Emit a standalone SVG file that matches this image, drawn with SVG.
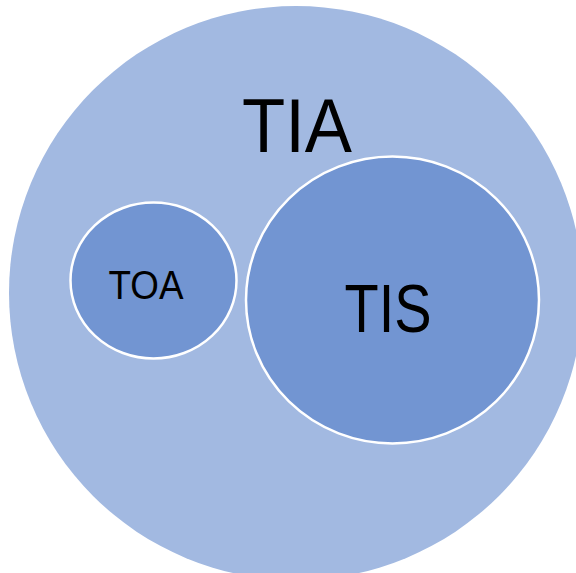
<svg xmlns="http://www.w3.org/2000/svg" width="576" height="573" viewBox="0 0 576 573">
<style>
.lbl{font-family:"Liberation Sans","Open Sans",sans-serif;fill:#000;text-anchor:middle}
.inner{fill:#7295D2;stroke:#fff;stroke-width:2.5}
</style>
<rect width="576" height="573" fill="#fff"/>
<g id="TIA">
<circle cx="296" cy="293" r="287" fill="#A2B9E1"/>
<text class="lbl" x="297" y="152" font-size="76" textLength="110" lengthAdjust="spacingAndGlyphs">TIA</text>
</g>
<g id="TOA">
<ellipse class="inner" cx="153.5" cy="280.5" rx="83" ry="78"/>
<text class="lbl" x="146" y="299" font-size="40" textLength="75" lengthAdjust="spacingAndGlyphs">TOA</text>
</g>
<g id="TIS">
<ellipse class="inner" cx="392.5" cy="300" rx="146.5" ry="143.5"/>
<text class="lbl" x="388" y="332" font-size="68" textLength="87" lengthAdjust="spacingAndGlyphs">TIS</text>
</g>
<g id="connectors"/>
</svg>
